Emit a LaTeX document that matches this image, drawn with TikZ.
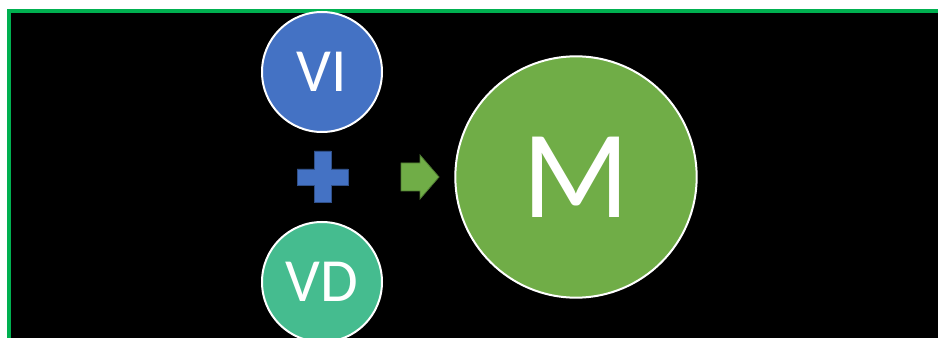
\documentclass[tikz,border=0pt]{standalone}
\usepackage{fontspec}
\setmainfont{Carlito}
\definecolor{viblue}{RGB}{68,114,196}
\definecolor{vdgreen}{RGB}{69,188,143}
\definecolor{mgreen}{RGB}{112,173,71}
\definecolor{framegreen}{RGB}{0,176,80}
\begin{document}
\begin{tikzpicture}[x=0.75pt,y=0.75pt,yscale=-1,xscale=1,
  ball/.style={circle,draw=white,line width=1.5pt,text=white,inner sep=0pt}]
  \useasboundingbox (0,0) rectangle (938,338);
  \clip (0,0) rectangle (938,338);

  %Shape: Rectangle [background]
  \draw [draw=framegreen,fill=black,line width=3pt] (9,11) rectangle (960,360);

  %Shape: Circle [VI]
  \node [ball,fill=viblue,minimum size=90pt] (vi) at (322,72) {\fontsize{46}{46}\selectfont VI};
  %Shape: Circle [VD]
  \node [ball,fill=vdgreen,minimum size=90pt] (vd) at (322,282) {\fontsize{46}{46}\selectfont VD};
  %Shape: Circle [M]
  \node [ball,fill=mgreen,minimum size=181pt] (m) at (576,177) {\fontsize{94}{94}\selectfont M};

  %Shape: Plus
  \draw [fill=viblue,draw=viblue!70!black,line width=0.6pt] (314,151) -- (331,151) -- (331,169) -- (348,169) -- (348,185) -- (331,185) -- (331,202) -- (314,202) -- (314,185) -- (297,185) -- (297,169) -- (314,169) -- cycle ;
  %Shape: Right Arrow
  \draw [fill=mgreen,draw=mgreen!70!black,line width=0.6pt] (401,163) -- (420,163) -- (420,155) -- (439,177) -- (420,199) -- (420,191) -- (401,191) -- cycle ;

\end{tikzpicture}
\end{document}
